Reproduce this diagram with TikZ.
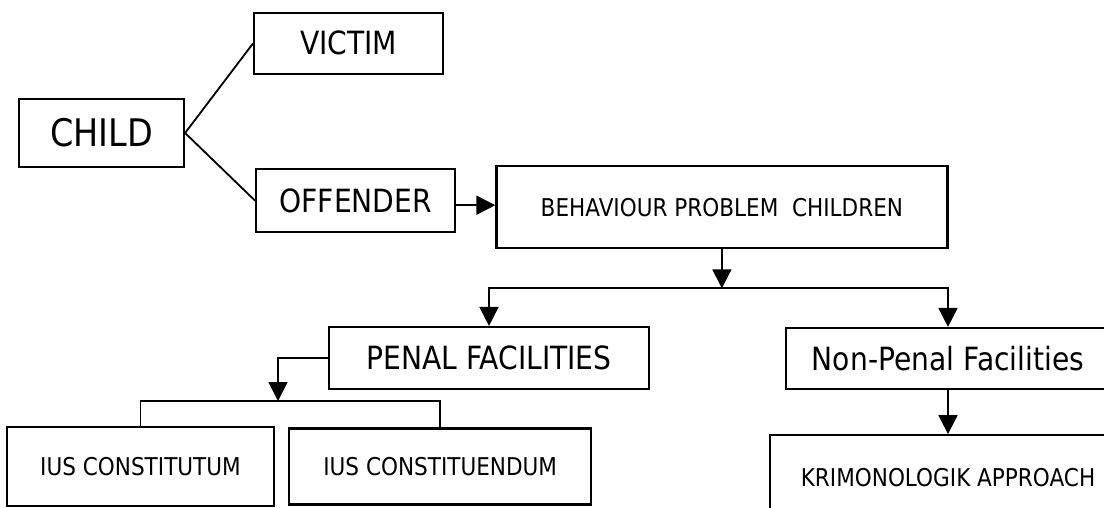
\documentclass[tikz,border=0pt]{standalone}
\usepackage{fontspec}
\setmainfont{DejaVu Sans}[FakeStretch=0.88]
\usetikzlibrary{arrows.meta, positioning}

\begin{document}
\begin{tikzpicture}[x=1pt, y=1pt]
  \tikzstyle{block} = [rectangle, draw, line width=2.2pt, align=center, inner sep=0pt]
  \tikzstyle{big} = [font=\fontsize{32}{36}\selectfont]
  \tikzstyle{small} = [font=\fontsize{24.5}{28}\selectfont]
  \tikzstyle{arrow} = [line width=1.8pt, -{Triangle[width=19pt, length=19pt]}]
  \tikzstyle{line} = [line width=1.8pt]

  \clip (0,0) rectangle (1104,-508);

  \node[block, font=\fontsize{38}{42}\selectfont, minimum width=165pt, minimum height=68pt] (child) at (101.5,-133) {CHILD};
  \node[block, big, minimum width=189pt, minimum height=61pt, above right=23pt and 68pt of child] (victim) {VICTIM};
  \node[block, big, minimum width=199pt, minimum height=63pt, below right=0pt and 70pt of child] (offender) {OFFENDER};
  \node[block, small, minimum width=451pt, minimum height=82pt, right=39pt of offender, yshift=-6.5pt] (behaviour) {BEHAVIOUR PROBLEM\ \ CHILDREN};
  \node[block, big, minimum width=320pt, minimum height=62pt] (penal) at (489,-358) {PENAL FACILITIES};
  \node[block, big, minimum width=324pt, minimum height=61pt] (nonpenal) at (948,-358.5) {Non-Penal Facilities};
  \node[block, small, minimum width=267pt, minimum height=79pt] (iusa) at (140.5,-466.5) {IUS CONSTITUTUM};
  \node[block, small, minimum width=302pt, minimum height=76pt, right=13pt of iusa] (iusb) {IUS CONSTITUENDUM};
  \node[block, small, minimum width=356pt, minimum height=84pt, below=44pt of nonpenal] (krim) {KRIMONOLOGIK APPROACH};

  \coordinate (split) at ([yshift=-39pt]behaviour.south);
  \coordinate (fork) at (278,-401);

  \draw[line] (child.east) -- (victim.west);
  \draw[line] (child.east) -- (offender.west);
  \draw[arrow] ([yshift=-4.5pt]offender.east) -- ([yshift=-4.5pt]offender.east -| behaviour.west);
  \draw[arrow] (behaviour) -- (split);
  \draw[arrow] (split) -| (penal);
  \draw[arrow] (split) -| (nonpenal);
  \draw[arrow] (penal.west) -| (fork);
  \draw[line] (iusa) |- (fork) -| (iusb);
  \draw[arrow] (nonpenal) -- (krim);
\end{tikzpicture}
\end{document}
